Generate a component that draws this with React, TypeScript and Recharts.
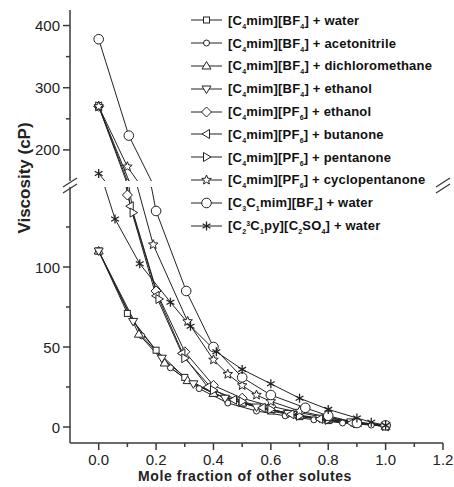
import React from 'react';
import { LineChart, Line, XAxis, YAxis, Legend } from 'recharts';

// tick positions
const xTicks = [0, 0.1, 0.2, 0.3, 0.4, 0.5, 0.6, 0.7, 0.8, 0.9, 1.0, 1.1, 1.2];
const upperTicks = [200, 250, 300, 350, 400];
const upperMajor = [200, 300, 400];
const lowerTicks = [0, 25, 50, 75, 100, 125];
const lowerMajor = [0, 50, 100];

// legend labels (_x = subscript, ^x = superscript)
const labels = [
  '[C_4mim][BF_4] + water',
  '[C_4mim][BF_4] + acetonitrile',
  '[C_4mim][BF_4] + dichloromethane',
  '[C_4mim][BF_4] + ethanol',
  '[C_4mim][PF_6] + ethanol',
  '[C_4mim][PF_6] + butanone',
  '[C_4mim][PF_6] + pentanone',
  '[C_4mim][PF_6] + cyclopentanone',
  '[C_3C_1mim][BF_4] + water',
  '[C_2^3C_1py][C_2SO_4] + water',
];
const shapes = ['square', 'circle', 'up', 'down', 'diamond', 'left', 'right', 'star', 'bigCircle', 'asterisk'];

// mole fraction / viscosity (cP)
const bf4WaterX = [0, 0.1, 0.2, 0.3, 0.4, 0.5, 0.6, 0.7, 0.8, 0.9, 1.0];
const bf4WaterY = [110, 71, 48, 31, 21, 15, 10, 6.5, 4, 2, 0.9];
const bf4AcnX = [0, 0.15, 0.25, 0.35, 0.45, 0.55, 0.65, 0.75, 0.85, 0.95, 1.0];
const bf4AcnY = [110, 57, 37, 24, 15, 10, 7, 4.5, 2.5, 1.2, 0.4];
const bf4DcmX = [0, 0.14, 0.23, 0.31, 0.4, 0.5, 0.6, 0.7, 0.8, 0.9, 1.0];
const bf4DcmY = [110, 58, 40, 29, 21, 15, 11, 7, 4.5, 2.2, 0.4];
const bf4EtohX = [0, 0.12, 0.22, 0.33, 0.44, 0.55, 0.66, 0.77, 0.88, 1.0];
const bf4EtohY = [110, 66, 43, 27, 18, 12.5, 8.5, 5.5, 3.2, 1.1];
const pf6EtohX = [0, 0.1, 0.2, 0.3, 0.4, 0.5, 0.6, 0.7, 0.8, 0.9, 1.0];
const pf6EtohY = [270, 145, 85, 47, 26, 18, 13, 9, 5.5, 3, 1.1];
const pf6ButX = [0, 0.11, 0.2, 0.29, 0.38, 0.47, 0.57, 0.67, 0.77, 0.88, 1.0];
const pf6ButY = [270, 138, 82, 46, 25, 17, 12, 8, 5, 2.5, 0.4];
const pf6PentX = [0, 0.12, 0.21, 0.3, 0.4, 0.5, 0.6, 0.7, 0.8, 0.9, 1.0];
const pf6PentY = [270, 134, 80, 43, 23, 16, 11, 7, 4.5, 2.3, 0.7];
const pf6CycX = [0, 0.1, 0.19, 0.31, 0.4, 0.45, 0.5, 0.55, 0.6, 0.7, 0.8, 0.9, 1.0];
const pf6CycY = [270, 173, 114, 66, 42, 33, 26, 20, 16, 10, 6, 3, 0.6];
const c3c1WaterX = [0, 0.105, 0.2, 0.305, 0.4, 0.5, 0.6, 0.72, 0.8, 0.9, 1.0];
const c3c1WaterY = [378, 223, 135, 85, 50, 31, 20, 12, 7, 2.5, 1];
const pyWaterX = [0, 0.057, 0.143, 0.25, 0.32, 0.41, 0.5, 0.6, 0.7, 0.8, 0.9, 0.95, 1.0];
const pyWaterY = [162, 130, 102, 78, 63, 47, 36, 27, 18, 11, 5.6, 3, 1];

const xs = [bf4WaterX, bf4AcnX, bf4DcmX, bf4EtohX, pf6EtohX, pf6ButX, pf6PentX, pf6CycX, c3c1WaterX, pyWaterX];
const ys = [bf4WaterY, bf4AcnY, bf4DcmY, bf4EtohY, pf6EtohY, pf6ButY, pf6PentY, pf6CycY, c3c1WaterY, pyWaterY];

const series = labels.map((label, i) => ({
  label,
  shape: shapes[i],
  data: xs[i].map((x, j) => ({ x, y: ys[i][j] })),
}));

const FONT = 'Arial, "Liberation Sans", Helvetica, sans-serif';
const AXIS = '#3a3a3a';
const INK = '#222';

function Marker({ shape, cx, cy }: { shape: string; cx: number; cy: number }) {
  const st = { fill: '#fff', stroke: INK, strokeWidth: 1 };
  switch (shape) {
    case 'square':
      return <rect x={cx - 3} y={cy - 3} width={6} height={6} {...st} />;
    case 'circle':
      return <circle cx={cx} cy={cy} r={3} {...st} />;
    case 'bigCircle':
      return <circle cx={cx} cy={cy} r={4.8} {...st} />;
    case 'up':
      return <polygon points={`${cx},${cy - 4.5} ${cx + 4.5},${cy + 3} ${cx - 4.5},${cy + 3}`} {...st} />;
    case 'down':
      return <polygon points={`${cx},${cy + 4.5} ${cx + 4.5},${cy - 3} ${cx - 4.5},${cy - 3}`} {...st} />;
    case 'left':
      return <polygon points={`${cx - 4.5},${cy} ${cx + 3},${cy - 4.5} ${cx + 3},${cy + 4.5}`} {...st} />;
    case 'right':
      return <polygon points={`${cx + 4.5},${cy} ${cx - 3},${cy - 4.5} ${cx - 3},${cy + 4.5}`} {...st} />;
    case 'diamond':
      return <polygon points={`${cx},${cy - 5} ${cx + 5},${cy} ${cx},${cy + 5} ${cx - 5},${cy}`} {...st} />;
    case 'star': {
      const pts: string[] = [];
      for (let k = 0; k < 10; k++) {
        const r = k % 2 === 0 ? 5 : 2.2;
        const a = -Math.PI / 2 + (k * Math.PI) / 5;
        pts.push(`${cx + r * Math.cos(a)},${cy + r * Math.sin(a)}`);
      }
      return <polygon points={pts.join(' ')} {...st} />;
    }
    case 'asterisk': {
      const r = 4.5;
      return (
        <g stroke={INK} strokeWidth={1.3}>
          <line x1={cx} y1={cy - r} x2={cx} y2={cy + r} />
          <line x1={cx - r * 0.87} y1={cy - r * 0.5} x2={cx + r * 0.87} y2={cy + r * 0.5} />
          <line x1={cx - r * 0.87} y1={cy + r * 0.5} x2={cx + r * 0.87} y2={cy - r * 0.5} />
        </g>
      );
    }
    default:
      return null;
  }
}

function YTick(props: any) {
  const { x, y, payload, majors } = props;
  const v = payload.value;
  const major = majors.includes(v);
  return (
    <g>
      <line x1={x} x2={x - (major ? 7 : 4)} y1={y} y2={y} stroke={AXIS} strokeWidth={1.5} />
      {major && (
        <text x={x - 10} y={y + 5.5} textAnchor="end" fontSize={15} fill={INK} fontFamily={FONT}>
          {v}
        </text>
      )}
    </g>
  );
}

function XTick(props: any) {
  const { x, y, payload } = props;
  const v = payload.value;
  const major = Math.round(v * 10) % 2 === 0;
  return (
    <g>
      <line x1={x} x2={x} y1={y} y2={y + (major ? 7 : 4)} stroke={AXIS} strokeWidth={1.5} />
      {major && (
        <text x={x} y={y + 22} textAnchor="middle" fontSize={15} fill={INK} fontFamily={FONT}>
          {v.toFixed(1)}
        </text>
      )}
    </g>
  );
}

function richLabel(text: string) {
  const out: React.ReactNode[] = [];
  let buf = '';
  for (let i = 0; i < text.length; i++) {
    const ch = text[i];
    if ((ch === '_' || ch === '^') && i + 1 < text.length) {
      if (buf) out.push(<span key={out.length}>{buf}</span>);
      buf = '';
      out.push(
        <span key={out.length} style={{ fontSize: 7, position: 'relative', top: ch === '_' ? 4 : -4 }}>
          {text[i + 1]}
        </span>
      );
      i++;
    } else {
      buf += ch;
    }
  }
  if (buf) out.push(<span key={out.length}>{buf}</span>);
  return out;
}

function LegendBox() {
  return (
    <div style={{ fontFamily: FONT, fontWeight: 'bold', fontSize: 13, color: '#111' }}>
      {series.map((s) => (
        <div key={s.label} style={{ display: 'flex', alignItems: 'center', height: 22.8, whiteSpace: 'nowrap' }}>
          <svg width={34} height={14} style={{ display: 'block' }}>
            <line x1={1} x2={32} y1={7} y2={7} stroke={INK} strokeWidth={1} />
            <Marker shape={s.shape} cx={16.5} cy={7} />
          </svg>
          <span style={{ marginLeft: 4, letterSpacing: 0.2 }}>{richLabel(s.label)}</span>
        </div>
      ))}
    </div>
  );
}

function renderLines() {
  return series.map((s) => (
    <Line
      key={s.label}
      data={s.data}
      dataKey="y"
      type="linear"
      stroke={INK}
      strokeWidth={1}
      isAnimationActive={false}
      activeDot={false}
      dot={(p: any) => <Marker key={`${s.shape}-${p.index}`} shape={s.shape} cx={p.cx} cy={p.cy} />}
    />
  ));
}

export default function App() {
  const W = 454;
  const H = 487;
  return (
    <div style={{ position: 'absolute', left: 0, top: 0, width: W, height: H, background: '#fff' }}>
      {/* upper segment: 150 - 425 cP */}
      <div style={{ position: 'absolute', left: 0, top: 0 }}>
        <LineChart width={W} height={H} margin={{ top: 10, right: 11, bottom: 306, left: 0 }}>
          <XAxis
            dataKey="x"
            type="number"
            orientation="top"
            domain={[-0.1, 1.2]}
            allowDataOverflow
            height={0}
            tick={false}
            tickLine={false}
            axisLine={{ stroke: AXIS, strokeWidth: 1.5 }}
          />
          <YAxis
            domain={[150, 425]}
            ticks={upperTicks}
            allowDataOverflow
            interval={0}
            width={70}
            tickSize={0}
            tickMargin={0}
            tickLine={false}
            axisLine={{ stroke: AXIS, strokeWidth: 1.5 }}
            tick={(p: any) => <YTick {...p} majors={upperMajor} />}
          />
          <YAxis
            yAxisId="r"
            orientation="right"
            domain={[150, 425]}
            width={0}
            tick={false}
            tickLine={false}
            axisLine={{ stroke: AXIS, strokeWidth: 1.5 }}
          />
          {renderLines()}
        </LineChart>
      </div>
      {/* lower segment: -10 - 150 cP */}
      <div style={{ position: 'absolute', left: 0, top: 0 }}>
        <LineChart width={W} height={H} margin={{ top: 187, right: 11, bottom: 0, left: 0 }}>
          <XAxis
            dataKey="x"
            type="number"
            domain={[-0.1, 1.2]}
            ticks={xTicks}
            allowDataOverflow
            interval={0}
            height={44}
            tickSize={0}
            tickMargin={0}
            tickLine={false}
            axisLine={{ stroke: AXIS, strokeWidth: 1.5 }}
            tick={(p: any) => <XTick {...p} />}
          />
          <YAxis
            domain={[-10, 150]}
            ticks={lowerTicks}
            allowDataOverflow
            interval={0}
            width={70}
            tickSize={0}
            tickMargin={0}
            tickLine={false}
            axisLine={{ stroke: AXIS, strokeWidth: 1.5 }}
            tick={(p: any) => <YTick {...p} majors={lowerMajor} />}
          />
          <YAxis
            yAxisId="r"
            orientation="right"
            domain={[-10, 150]}
            width={0}
            tick={false}
            tickLine={false}
            axisLine={{ stroke: AXIS, strokeWidth: 1.5 }}
          />
          <Legend
            layout="vertical"
            align="center"
            verticalAlign="middle"
            wrapperStyle={{ top: 9, left: 190, width: 260 }}
            content={() => <LegendBox />}
          />
          {renderLines()}
        </LineChart>
      </div>
      {/* axis break marks and titles */}
      <svg width={W} height={H} style={{ position: 'absolute', left: 0, top: 0, pointerEvents: 'none' }}>
        {[70, 443].map((ax) => (
          <g key={ax} stroke={AXIS} strokeWidth={1.3}>
            <line x1={ax - 7} y1={187} x2={ax + 7} y2={178} />
            <line x1={ax - 7} y1={193} x2={ax + 7} y2={184} />
          </g>
        ))}
        <text
          x={24}
          y={178}
          transform="rotate(-90 24 178)"
          textAnchor="middle"
          dominantBaseline="central"
          fontFamily={FONT}
          fontWeight="bold"
          fontSize={17}
          fill={INK}
        >
          Viscosity (cP)
        </text>
        <text x={245} y={481} textAnchor="middle" fontFamily={FONT} fontWeight="bold" fontSize={14} letterSpacing={0.6} fill={INK}>
          Mole fraction of other solutes
        </text>
      </svg>
    </div>
  );
}
